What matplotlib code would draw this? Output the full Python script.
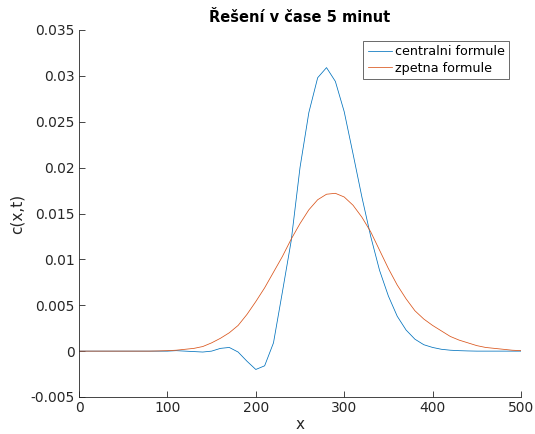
import numpy as np
import matplotlib
matplotlib.use("Agg")
import matplotlib.pyplot as plt

x = np.arange(0, 501, 10)

centralni = [
    0, 0, 0, 0, 0, 0, 0, 0, 0, 0,                      # 0-90
    0, 0.00005, 0.0, -0.00005, -0.0001,                # 100-140
    0.0, 0.0003, 0.0004, -0.0001, -0.0011,             # 150-190
    -0.0020, -0.0016, 0.0009, 0.0064, 0.0120,          # 200-240
    0.0200, 0.0260, 0.0298, 0.0309, 0.0294,            # 250-290
    0.0261, 0.0215, 0.0168, 0.0125, 0.0088,            # 300-340
    0.0060, 0.0038, 0.0023, 0.0013, 0.0007,            # 350-390
    0.0004, 0.0002, 0.0001, 0.00005, 0.00002,          # 400-440
    0, 0, 0, 0, 0, 0,                                  # 450-500
]

zpetna = [
    0, 0, 0, 0, 0, 0, 0, 0, 0, 0.00002,                # 0-90
    0.00005, 0.0001, 0.0002, 0.0003, 0.0005,           # 100-140
    0.0009, 0.0014, 0.0020, 0.0028, 0.0040,            # 150-190
    0.0054, 0.0069, 0.0086, 0.0103, 0.0122,            # 200-240
    0.0139, 0.0154, 0.0165, 0.0171, 0.0172,            # 250-290
    0.0168, 0.0159, 0.0146, 0.0130, 0.0110,            # 300-340
    0.0090, 0.0072, 0.0057, 0.0044, 0.0035,            # 350-390
    0.0028, 0.0022, 0.0016, 0.0012, 0.0009,            # 400-440
    0.0006, 0.0004, 0.0003, 0.0002, 0.0001, 0.00005,   # 450-500
]

xticks = [0, 100, 200, 300, 400, 500]
yticks = [-0.005, 0, 0.005, 0.01, 0.015, 0.02, 0.025, 0.03, 0.035]
yticklabels = ["-0.005", "0", "0.005", "0.01", "0.015", "0.02", "0.025", "0.03", "0.035"]

axis_col = "#262626"

fig = plt.figure(figsize=(5.35, 4.34), dpi=100)
ax = fig.add_axes([79 / 535, 37 / 434, 442 / 535, 367 / 434])

ax.plot(x, centralni, color="#0072BD", lw=0.55, label="centralni formule")
ax.plot(x, zpetna, color="#D95319", lw=0.55, label="zpetna formule")

ax.set_xlim(0, 500)
ax.set_ylim(-0.005, 0.035)
ax.set_xticks(xticks)
ax.set_yticks(yticks)
ax.set_yticklabels(yticklabels)

for s in ("top", "right"):
    ax.spines[s].set_visible(False)
for s in ("left", "bottom"):
    ax.spines[s].set_color(axis_col)
    ax.spines[s].set_linewidth(0.6)
ax.tick_params(direction="in", length=4, width=0.6, colors=axis_col,
               labelsize=10, pad=3)

ax.set_xlabel("x", fontsize=11, color=axis_col, labelpad=1)
ax.set_ylabel("c(x,t)", fontsize=11, color=axis_col, labelpad=4)
ax.set_title("Řešení v čase 5 minut", fontsize=10.5, fontweight="bold",
             color="black", pad=6)

leg = ax.legend(loc="upper right", bbox_to_anchor=(509 / 535, 1 - 41 / 434),
                bbox_transform=fig.transFigure, fontsize=9.2, frameon=True,
                fancybox=False, handlelength=1.9, handletextpad=0.2,
                borderpad=0.35, labelspacing=0.25, borderaxespad=0)
leg.get_frame().set_edgecolor(axis_col)
leg.get_frame().set_linewidth(0.6)

fig.savefig("out.png", dpi=100)
